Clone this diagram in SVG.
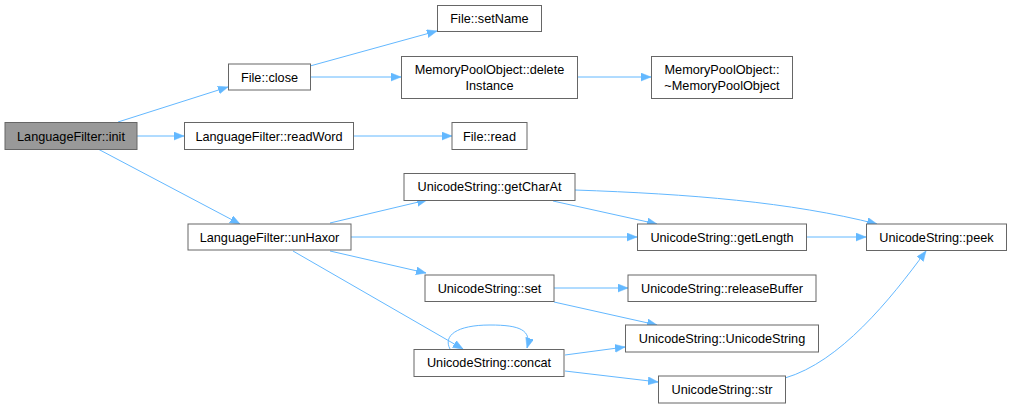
<svg xmlns="http://www.w3.org/2000/svg" width="1011" height="408" viewBox="0 0 1011 408">
<defs>
<style>
.n rect{fill:#ffffff;stroke:#666666;stroke-width:1}
.n.root rect{fill:#999999}
.n text{font-family:"Liberation Sans",Arial,sans-serif;font-size:12.7px;fill:#000000;text-anchor:middle}
.e path{fill:none;stroke:#63b8ff;stroke-width:1}
</style>
<marker id="arr" markerUnits="userSpaceOnUse" markerWidth="11" markerHeight="9" refX="10" refY="4" orient="auto">
<path d="M0,0 L10,4 L0,8 z" fill="#63b8ff" stroke="#63b8ff" stroke-width="0.5"/>
</marker>
</defs>
<rect width="1011" height="408" fill="#ffffff"/>
<g id="edges" class="e">
<path d="M118,122 L228,87" marker-end="url(#arr)"/>
<path d="M310,66 L437,31" marker-end="url(#arr)"/>
<path d="M310,77 L401,77" marker-end="url(#arr)"/>
<path d="M577,77 L651,77" marker-end="url(#arr)"/>
<path d="M137,136 L184,136" marker-end="url(#arr)"/>
<path d="M354,136 L452,136" marker-end="url(#arr)"/>
<path d="M98,149 L240,224" marker-end="url(#arr)"/>
<path d="M330,223 L427,200" marker-end="url(#arr)"/>
<path d="M351,237 L637,237" marker-end="url(#arr)"/>
<path d="M330,251 L426,273" marker-end="url(#arr)"/>
<path d="M293,251 L463,349" marker-end="url(#arr)"/>
<path d="M450,349 C443,336 456,325 490,325 C520,325 532,330 527,348" marker-end="url(#arr)"/>
<path d="M553,201 L657,224" marker-end="url(#arr)"/>
<path d="M575,190 C690,194 790,202 877,224" marker-end="url(#arr)"/>
<path d="M806,237 L866,237" marker-end="url(#arr)"/>
<path d="M554,288 L628,288" marker-end="url(#arr)"/>
<path d="M554,302 L657,325" marker-end="url(#arr)"/>
<path d="M565,355 L625,347" marker-end="url(#arr)"/>
<path d="M565,371 L658,382" marker-end="url(#arr)"/>
<path d="M785,378 C840,362 890,300 926,251" marker-end="url(#arr)"/>
</g>
<g id="n_init" class="n root"><rect x="5" y="122.5" width="132" height="27"/><text x="71" y="140.5">LanguageFilter::init</text></g>
<g id="n_close" class="n"><rect x="228.5" y="64" width="82" height="26"/><text x="269.5" y="81.5">File::close</text></g>
<g id="n_readWord" class="n"><rect x="184.5" y="122.5" width="169" height="27"/><text x="269" y="140.5">LanguageFilter::readWord</text></g>
<g id="n_setName" class="n"><rect x="437.5" y="5.5" width="104" height="26"/><text x="489.5" y="23">File::setName</text></g>
<g id="n_deleteInstance" class="n"><rect x="401.5" y="56.5" width="176" height="42"/><text x="489.5" y="73.5">MemoryPoolObject::delete</text><text x="489.5" y="89.5">Instance</text></g>
<g id="n_dtor" class="n"><rect x="651.5" y="56.5" width="141" height="42"/><text x="722" y="73.5">MemoryPoolObject::</text><text x="722" y="89.5">~MemoryPoolObject</text></g>
<g id="n_read" class="n"><rect x="452" y="122.5" width="75" height="27"/><text x="489.5" y="140.5">File::read</text></g>
<g id="n_unHaxor" class="n"><rect x="188" y="224" width="163" height="26"/><text x="269.5" y="241.5">LanguageFilter::unHaxor</text></g>
<g id="n_getCharAt" class="n"><rect x="404" y="173.5" width="171" height="27"/><text x="489.5" y="191">UnicodeString::getCharAt</text></g>
<g id="n_getLength" class="n"><rect x="637.5" y="224" width="169" height="26.5"/><text x="722" y="241.5">UnicodeString::getLength</text></g>
<g id="n_peek" class="n"><rect x="866.5" y="224" width="140" height="26.5"/><text x="936.5" y="241.5">UnicodeString::peek</text></g>
<g id="n_set" class="n"><rect x="425" y="275" width="129" height="26.5"/><text x="489.5" y="292.5">UnicodeString::set</text></g>
<g id="n_releaseBuffer" class="n"><rect x="628" y="275" width="188" height="26.5"/><text x="722" y="292.5">UnicodeString::releaseBuffer</text></g>
<g id="n_ctor" class="n"><rect x="625.5" y="325" width="193" height="27"/><text x="722" y="342.5">UnicodeString::UnicodeString</text></g>
<g id="n_concat" class="n"><rect x="414" y="349.5" width="150" height="27"/><text x="489" y="367">UnicodeString::concat</text></g>
<g id="n_str" class="n"><rect x="658.5" y="376" width="127" height="27"/><text x="722" y="393.5">UnicodeString::str</text></g>
</svg>
